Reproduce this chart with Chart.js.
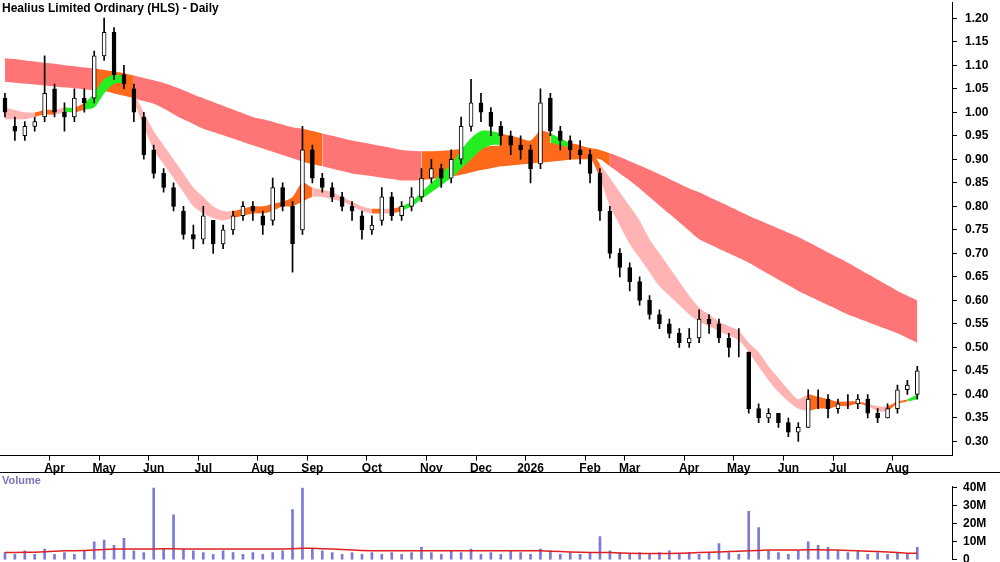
<!DOCTYPE html>
<html><head><meta charset="utf-8">
<script src="https://cdn.jsdelivr.net/npm/chart.js@4.4.1/dist/chart.umd.min.js"></script>
<style>
body{margin:0;background:#fff;width:1000px;height:562px;overflow:hidden;position:relative;font-family:Arial,"Liberation Sans",sans-serif}
#pw{position:absolute;left:0;top:-13px;width:1000px;height:490px}
#vw{position:absolute;left:0;top:473px;width:1000px;height:100px}
#sep{position:absolute;left:0;top:472px;width:1000px;height:1px;background:#000}
#title{position:absolute;left:2px;top:1px;font-weight:bold;font-size:12px;color:#000}
#vlab{position:absolute;left:2px;top:474px;font-weight:bold;font-size:11px;color:#7777bb}
</style></head><body>
<div id="pw"><canvas id="pc"></canvas></div>
<div id="vw"><canvas id="vc"></canvas></div>
<div id="sep"></div>
<div id="title">Healius Limited Ordinary (HLS) - Daily</div>
<div id="vlab">Volume</div>
<script>
const monthLabels = {5:'Apr',10:'May',15:'Jun',20:'Jul',26:'Aug',31:'Sep',37:'Oct',43:'Nov',48:'Dec',53:'2026',59:'Feb',63:'Mar',69:'Apr',74:'May',79:'Jun',84:'Jul',90:'Aug'};
const openP  = [1.03,0.97,0.95,0.97,0.99,1.05,1.00,0.99,1.03,1.03,1.12,1.17,1.08,1.05,0.99,0.92,0.87,0.84,0.79,0.74,0.73,0.77,0.72,0.75,0.78,0.80,0.78,0.77,0.84,0.80,0.75,0.92,0.86,0.84,0.82,0.80,0.78,0.75,0.77,0.82,0.78,0.80,0.82,0.86,0.88,0.86,0.90,0.97,1.02,1.00,0.97,0.95,0.93,0.92,0.89,1.03,0.96,0.94,0.92,0.91,0.87,0.79,0.70,0.67,0.64,0.60,0.57,0.55,0.53,0.51,0.52,0.56,0.55,0.52,0.50,0.49,0.37,0.35,0.36,0.34,0.32,0.33,0.39,0.39,0.37,0.38,0.38,0.39,0.36,0.35,0.37,0.41,0.40];
const highP  = [1.04,0.99,0.98,0.99,1.12,1.06,1.02,1.05,1.05,1.13,1.20,1.18,1.10,1.06,1.00,0.93,0.88,0.85,0.80,0.76,0.80,0.77,0.76,0.79,0.81,0.81,0.79,0.86,0.85,0.81,0.97,0.93,0.87,0.85,0.83,0.81,0.79,0.78,0.84,0.83,0.81,0.84,0.88,0.90,0.89,0.92,0.99,1.07,1.04,1.01,0.98,0.96,0.95,0.93,1.05,1.04,0.97,0.95,0.94,0.92,0.88,0.80,0.71,0.68,0.65,0.61,0.58,0.56,0.54,0.54,0.58,0.57,0.56,0.53,0.54,0.49,0.38,0.37,0.36,0.35,0.34,0.41,0.41,0.40,0.39,0.40,0.40,0.40,0.37,0.38,0.42,0.43,0.46];
const lowP   = [0.99,0.94,0.94,0.96,0.98,0.99,0.96,0.98,1.00,1.02,1.11,1.07,1.05,0.98,0.90,0.86,0.83,0.79,0.73,0.71,0.72,0.70,0.71,0.74,0.77,0.77,0.74,0.76,0.79,0.66,0.74,0.85,0.83,0.81,0.79,0.77,0.73,0.74,0.76,0.77,0.77,0.79,0.81,0.85,0.84,0.85,0.89,0.96,0.98,0.95,0.93,0.91,0.90,0.85,0.88,0.95,0.92,0.90,0.89,0.85,0.77,0.69,0.65,0.62,0.59,0.56,0.54,0.52,0.50,0.50,0.51,0.53,0.51,0.48,0.48,0.36,0.34,0.34,0.33,0.31,0.30,0.33,0.37,0.35,0.36,0.37,0.37,0.35,0.34,0.35,0.36,0.40,0.39];
const closeP = [1.00,0.96,0.97,0.98,1.04,1.00,0.99,1.03,1.02,1.12,1.17,1.08,1.06,1.00,0.91,0.87,0.84,0.80,0.74,0.73,0.78,0.72,0.75,0.78,0.80,0.79,0.76,0.84,0.80,0.72,0.92,0.86,0.84,0.82,0.80,0.79,0.75,0.76,0.82,0.78,0.80,0.82,0.86,0.88,0.86,0.90,0.97,1.02,1.00,0.97,0.95,0.93,0.92,0.88,1.02,0.96,0.94,0.92,0.91,0.87,0.79,0.70,0.67,0.64,0.60,0.57,0.55,0.53,0.51,0.52,0.56,0.55,0.52,0.50,0.50,0.37,0.35,0.36,0.34,0.32,0.33,0.39,0.39,0.37,0.38,0.38,0.39,0.36,0.35,0.37,0.41,0.42,0.45];
const longUpper = [1.115,1.113,1.11,1.108,1.105,1.103,1.10,1.098,1.095,1.093,1.09,1.087,1.083,1.078,1.073,1.068,1.062,1.055,1.047,1.038,1.03,1.022,1.014,1.006,0.998,0.99,0.985,0.98,0.974,0.968,0.965,0.96,0.955,0.95,0.945,0.94,0.936,0.932,0.928,0.924,0.92,0.918,0.917,0.917,0.918,0.92,0.922,0.924,0.926,0.928,0.93,0.931,0.932,0.933,0.934,0.935,0.934,0.932,0.928,0.924,0.92,0.913,0.905,0.896,0.887,0.878,0.868,0.858,0.848,0.838,0.83,0.82,0.81,0.80,0.79,0.78,0.771,0.762,0.753,0.744,0.735,0.724,0.713,0.702,0.691,0.68,0.668,0.656,0.644,0.632,0.62,0.61,0.60];
const longLower = [1.065,1.063,1.061,1.059,1.057,1.055,1.053,1.051,1.049,1.047,1.045,1.04,1.035,1.03,1.024,1.018,1.008,0.996,0.985,0.975,0.965,0.958,0.951,0.944,0.937,0.93,0.923,0.916,0.909,0.902,0.895,0.89,0.885,0.88,0.875,0.87,0.867,0.864,0.861,0.858,0.855,0.855,0.856,0.858,0.86,0.863,0.867,0.872,0.877,0.881,0.885,0.887,0.889,0.891,0.893,0.895,0.897,0.899,0.90,0.90,0.90,0.885,0.87,0.855,0.838,0.82,0.802,0.784,0.766,0.748,0.73,0.72,0.71,0.70,0.69,0.68,0.668,0.656,0.644,0.632,0.62,0.61,0.60,0.59,0.58,0.57,0.562,0.554,0.546,0.538,0.53,0.52,0.51];
const longState = 'rrrrrrrrroooorrrrrrrrrrrrrrrrroorrrrrrrrrrooooooooooooooooooorrrrrrrrrrrrrrrrrrrrrrrrrrrrrrrrrr';
const shortUpper = [1.01,1.005,1.0,1.0,1.005,1.005,1.01,1.01,1.02,1.04,1.07,1.08,1.075,1.04,1.00,0.96,0.93,0.90,0.87,0.84,0.82,0.80,0.79,0.79,0.795,0.80,0.80,0.805,0.81,0.82,0.85,0.84,0.835,0.83,0.82,0.81,0.80,0.795,0.795,0.795,0.80,0.81,0.83,0.85,0.87,0.89,0.92,0.945,0.96,0.96,0.955,0.95,0.945,0.94,0.96,0.955,0.945,0.935,0.93,0.92,0.89,0.86,0.83,0.80,0.77,0.73,0.70,0.67,0.64,0.61,0.585,0.57,0.555,0.545,0.535,0.51,0.49,0.46,0.435,0.41,0.39,0.40,0.395,0.39,0.385,0.385,0.385,0.38,0.375,0.375,0.385,0.39,0.40];
const shortLower = [0.985,0.985,0.985,0.99,0.995,0.995,1.0,1.0,1.005,1.01,1.04,1.06,1.06,1.02,0.97,0.92,0.89,0.86,0.83,0.80,0.785,0.775,0.77,0.775,0.78,0.785,0.785,0.79,0.80,0.80,0.81,0.82,0.82,0.815,0.81,0.80,0.79,0.785,0.785,0.785,0.79,0.80,0.815,0.83,0.845,0.86,0.88,0.90,0.92,0.93,0.93,0.925,0.92,0.915,0.93,0.935,0.93,0.925,0.92,0.905,0.86,0.80,0.76,0.72,0.69,0.66,0.63,0.61,0.59,0.57,0.555,0.545,0.535,0.525,0.515,0.49,0.46,0.43,0.405,0.385,0.37,0.365,0.37,0.37,0.375,0.375,0.38,0.375,0.365,0.365,0.38,0.385,0.39];
const shortState = 'pppoopgoggggoppppppppppooooooooppppppopoggggggggggoooooggooopppppppppppppppppppppooooooppoogg';
const volume = [4,3,5,3,6,3,4,3,5,10,11,8,12,5,4,40,6,25,6,5,4,3,5,4,3,4,3,4,5,28,40,6,5,4,3,4,3,4,3,4,3,4,7,4,3,5,4,6,3,4,3,5,4,3,6,5,3,4,3,4,13,5,4,3,4,3,4,5,3,4,3,4,9,4,3,27,18,5,4,3,5,10,8,7,5,4,5,3,4,3,4,3,7];
const volAvg = [4,4,4.2,4.2,4.5,4.8,5,5,5.2,5.5,5.8,6,6,6,6,6,6.2,6.2,6,6,6,6,6,6,6,6,6,6,6,6.2,6.5,6.5,6.2,6,5.8,5.5,5.2,5,5,5,5,5,5,5,5,5,5,5,5,5,5,5,5,5,5,4.8,4.6,4.4,4.2,4,4,4,3.8,3.6,3.5,3.5,3.5,3.5,3.6,3.8,4,4.2,4.4,4.6,4.8,5,5.2,5.4,5.5,5.5,5.5,5.6,5.6,5.5,5.4,5.2,5,4.8,4.6,4.4,4,3.6,3.6];
const priceTicks = [0.30,0.35,0.40,0.45,0.50,0.55,0.60,0.65,0.70,0.75,0.80,0.85,0.90,0.95,1.00,1.05,1.10,1.15,1.20];
const volTicks = [0,10,20,30,40];

const EXTRA = 3;
const labels = [];
for (let i = 0; i < closeP.length + EXTRA; i++) labels.push(monthLabels[i] || '');
const colorMap = {r:'rgba(255,110,110,0.95)', o:'#ff6a1a', g:'#22ee22', p:'#ffb3b3'};
const tickFont = {family:'Arial', size:12, weight:'bold'};
const AXW = 48;

const wick = closeP.map((c,i)=>[lowP[i], highP[i]]);
const body = closeP.map((c,i)=>[openP[i], c]);
const up = closeP.map((c,i)=> c >= openP[i]);

function band(upper, lower, state, ord){
  return [
    {type:'line', data:upper, fill:'+1', borderWidth:0, borderColor:'rgba(0,0,0,0)', pointRadius:0, order:ord, tension:0.3,
      backgroundColor:colorMap.r,
      segment:{backgroundColor: ctx => colorMap[state[ctx.p0DataIndex]], borderColor: ()=> 'rgba(0,0,0,0)'}},
    {type:'line', data:lower, fill:false, borderWidth:0, borderColor:'rgba(0,0,0,0)', pointRadius:0, order:ord, tension:0.3}
  ];
}

new Chart(document.getElementById('pc'), {
  type:'bar',
  data:{labels, datasets:[
    ...band(longUpper, longLower, longState, 10),
    ...band(shortUpper, shortLower, shortState, 9),
    {data:wick, backgroundColor:'#000', barThickness:1, grouped:false, order:2},
    {data:body, backgroundColor: up.map(u=>u?'#fff':'#000'), borderColor:'#000', borderWidth:1, borderSkipped:false, barThickness:4, grouped:false, order:1}
  ]},
  options:{responsive:true, maintainAspectRatio:false, animation:false,
    layout:{padding:{left:0,right:0,top:0,bottom:0}},
    plugins:{legend:{display:false}, tooltip:{enabled:false}},
    scales:{
      x:{grid:{drawOnChartArea:false, tickLength:5, color: c => (c.tick && c.tick.label) ? '#000' : 'rgba(0,0,0,0)'},
         border:{color:'#000'},
         ticks:{autoSkip:false, maxRotation:0, font:tickFont, color:'#000', padding:1, labelOffset:0}},
      y:{position:'right', min:0.27, max:1.234,
         afterBuildTicks: s => { s.ticks = priceTicks.map(v=>({value:v})); },
         afterFit: s => { s.width = AXW; },
         grid:{drawOnChartArea:false, tickLength:5, color:'#000'},
         border:{color:'#000'},
         ticks:{font:tickFont, color:'#000', padding:8, callback:v=>v.toFixed(2)}}
    }}
});

new Chart(document.getElementById('vc'), {
  type:'bar',
  data:{labels, datasets:[
    {type:'line', data:volAvg, borderColor:'#e02020', borderWidth:1.5, pointRadius:0, order:0},
    {data:volume, backgroundColor:'#7a7ad8', barThickness:2, order:1}
  ]},
  options:{responsive:true, maintainAspectRatio:false, animation:false,
    layout:{padding:{left:0,right:0,top:0,bottom:0}},
    plugins:{legend:{display:false}, tooltip:{enabled:false}},
    scales:{
      x:{display:false},
      y:{position:'right', min:0, max:41,
         afterBuildTicks: s => { s.ticks = volTicks.map(v=>({value:v})); },
         afterFit: s => { s.width = AXW; },
         grid:{drawOnChartArea:false, tickLength:5, color:'#000'},
         border:{color:'#000'},
         ticks:{font:tickFont, color:'#000', padding:6, callback:v=> v===0 ? '0' : v+'M'}}
    }}
});
</script></body></html>
